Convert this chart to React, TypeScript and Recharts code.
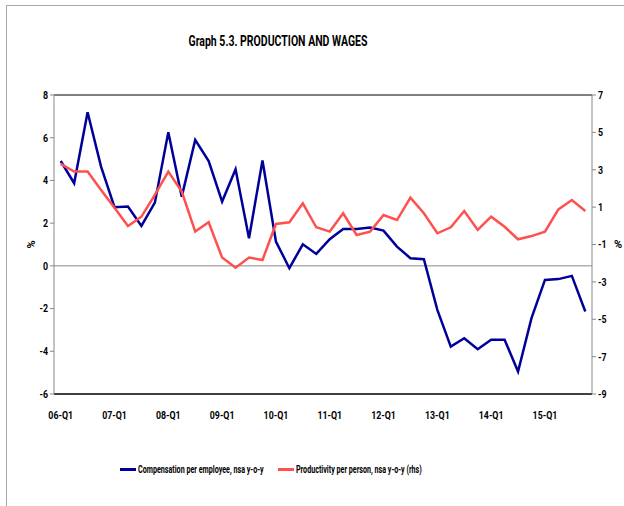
import { LineChart, Line, XAxis, YAxis, ReferenceLine, Legend } from "recharts";

const quarters = [
  "06-Q1", "06-Q2", "06-Q3", "06-Q4",
  "07-Q1", "07-Q2", "07-Q3", "07-Q4",
  "08-Q1", "08-Q2", "08-Q3", "08-Q4",
  "09-Q1", "09-Q2", "09-Q3", "09-Q4",
  "10-Q1", "10-Q2", "10-Q3", "10-Q4",
  "11-Q1", "11-Q2", "11-Q3", "11-Q4",
  "12-Q1", "12-Q2", "12-Q3", "12-Q4",
  "13-Q1", "13-Q2", "13-Q3", "13-Q4",
  "14-Q1", "14-Q2", "14-Q3", "14-Q4",
  "15-Q1", "15-Q2", "15-Q3", "15-Q4",
];

// compensation per employee, left axis
const compensation = [
  4.91, 3.87, 7.19, 4.65, 2.75, 2.78, 1.87, 2.96, 6.26, 3.24,
  5.9, 4.91, 3.01, 4.52, 1.29, 4.93, 1.14, -0.11, 1.01, 0.56,
  1.25, 1.73, 1.73, 1.79, 1.65, 0.9, 0.36, 0.31, -2.06, -3.78,
  -3.39, -3.9, -3.46, -3.46, -4.95, -2.45, -0.66, -0.62, -0.47, -2.14,
];

// productivity per person, right axis
const productivity = [
  3.31, 2.9, 2.9, 1.92, 0.97, -0.01, 0.49, 1.65, 2.9, 1.83,
  -0.31, 0.19, -1.7, -2.24, -1.7, -1.83, 0.1, 0.19, 1.2, -0.08,
  -0.31, 0.67, -0.49, -0.31, 0.58, 0.31, 1.51, 0.67, -0.4, -0.08,
  0.79, -0.22, 0.49, -0.05, -0.72, -0.55, -0.31, 0.88, 1.38, 0.79,
];

const leftTicks = [-6, -4, -2, 0, 2, 4, 6, 8];
const rightTicks = [-9, -7, -5, -3, -1, 1, 3, 5, 7];

const data = quarters.map((q, i) => ({
  q,
  comp: compensation[i],
  prod: productivity[i],
}));

const FONT = "Roboto, 'DejaVu Sans', sans-serif";
const BLUE = "#000099";
const RED = "#ff5050";
const SQUEEZE = 0.8;

// narrow bold tick text, the original uses a condensed font
function makeTick(dy: string) {
  return function Tick(props: any) {
    const { x, y, payload, textAnchor } = props;
    return (
      <g transform={`translate(${x},${y})`}>
        <text
          transform={`scale(${SQUEEZE},1)`}
          textAnchor={textAnchor}
          dy={dy}
          fontSize={11}
          fontWeight={700}
          fontFamily={FONT}
          fill="#000"
        >
          {payload.value}
        </text>
      </g>
    );
  };
}

const XTick = makeTick("0.71em");
const YTick = makeTick("0.355em");

const pctStyle = { fontSize: 11, fontWeight: 700, fill: "#000", fontFamily: FONT };

const legendItems = [
  { label: "Compensation per employee, nsa y-o-y", color: BLUE, x: 120 },
  { label: "Productivity per person, nsa y-o-y (rhs)", color: RED, x: 278 },
];

function LegendContent() {
  return (
    <div style={{ position: "relative", height: 14, fontFamily: FONT, fontSize: 11, fontWeight: 700 }}>
      {legendItems.map((it) => (
        <div key={it.label} style={{ position: "absolute", left: it.x, top: 0, display: "flex", alignItems: "center", height: 14 }}>
          <span style={{ display: "inline-block", width: 16, height: 3, background: it.color, marginRight: 2 }} />
          <span style={{ display: "inline-block", whiteSpace: "nowrap", transform: "scaleX(0.65)", transformOrigin: "left center" }}>
            {it.label}
          </span>
        </div>
      ))}
    </div>
  );
}

export default function App() {
  return (
    <div style={{ position: "absolute", left: 0, top: 0, width: 624, height: 506, background: "#fff", overflow: "hidden" }}>
      <div style={{ position: "absolute", left: 6, top: 5, width: 700, height: 600, borderLeft: "1px solid #aaa", borderTop: "1px solid #aaa" }} />
      <div style={{ position: "absolute", left: 0, top: 33, width: 556, textAlign: "center", fontFamily: FONT, fontWeight: 700, fontSize: 14, transform: "scaleX(0.75)", transformOrigin: "278px center" }}>
        Graph 5.3. PRODUCTION AND WAGES
      </div>
      <div style={{ position: "absolute", left: 0, top: 0 }}>
        <LineChart width={624} height={506} data={data} margin={{ top: 95, right: 0, bottom: 68, left: 0 }}>
          <XAxis
            dataKey="q"
            interval={3}
            padding={{ left: 6.7, right: 6.7 }}
            tickLine={false}
            axisLine={{ stroke: "#000", strokeWidth: 1.5 }}
            tick={<XTick />}
            height={30}
            tickMargin={11}
          />
          <YAxis
            yAxisId="left"
            orientation="left"
            width={54}
            domain={[-6, 8]}
            ticks={leftTicks}
            allowDataOverflow
            axisLine={{ stroke: "#888" }}
            tickLine={{ stroke: "#888" }}
            tickSize={4}
            tick={<YTick />}
            label={{ value: "%", angle: -90, position: "center", dx: 4, style: pctStyle }}
          />
          <YAxis
            yAxisId="right"
            orientation="right"
            width={32}
            domain={[-9, 7]}
            ticks={rightTicks}
            allowDataOverflow
            axisLine={{ stroke: "#888" }}
            tickLine={{ stroke: "#888" }}
            tickSize={4}
            tick={<YTick />}
            label={{ value: "%", position: "center", dx: 10, style: pctStyle }}
          />
          <ReferenceLine yAxisId="left" y={0} stroke="#888" strokeWidth={1} />
          <ReferenceLine yAxisId="left" y={8} stroke="#000" strokeWidth={1} />
          <Line
            yAxisId="left"
            dataKey="comp"
            stroke={BLUE}
            strokeWidth={2.5}
            dot={false}
            isAnimationActive={false}
          />
          <Line
            yAxisId="right"
            dataKey="prod"
            stroke={RED}
            strokeWidth={2.5}
            dot={false}
            isAnimationActive={false}
          />
          <Legend
            content={<LegendContent />}
            wrapperStyle={{ position: "absolute", left: 0, top: 462, width: 624 }}
          />
        </LineChart>
      </div>
    </div>
  );
}
